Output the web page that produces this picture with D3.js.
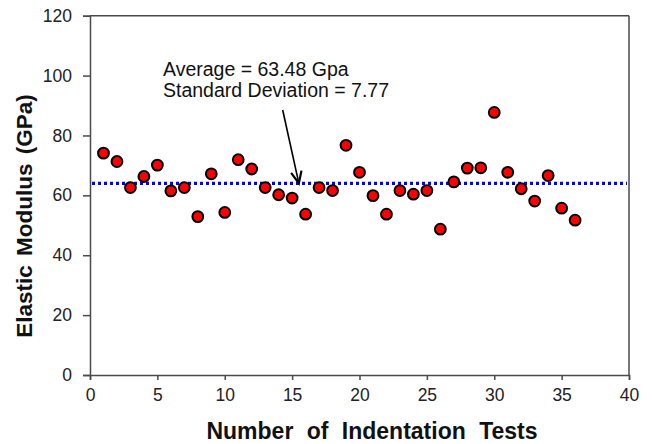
<!DOCTYPE html>
<html>
<head>
<meta charset="utf-8">
<script src="https://cdn.jsdelivr.net/npm/d3@7"></script>
<style>
  html, body { margin: 0; padding: 0; background: #fff; }
  svg { display: block; }
</style>
</head>
<body>
<div id="chart"></div>
<script>
// ---- Data ----
const testNumbers = [1,2,3,4,5,6,7,8,9,10,11,12,13,14,15,16,17,18,19,20,21,22,23,24,25,26,27,28,29,30,31,32,33,34,35,36];
const modulusValues = [74.1,71.3,62.6,66.3,70.1,61.5,62.6,52.9,67.2,54.3,71.9,68.8,62.6,60.2,59.1,53.7,62.6,61.6,76.7,67.7,59.9,53.7,61.6,60.4,61.6,48.7,64.5,69.1,69.2,87.7,67.7,62.2,58.1,66.6,55.7,51.7];
const averageLine = [64.0];
const xTicks = [0,5,10,15,20,25,30,35,40];
const yTicks = [0,20,40,60,80,100,120];
const annotationLines = ["Average = 63.48 Gpa", "Standard Deviation = 7.77"];
const arrowFrom = [14.3, 88.5];
const arrowTo = [15.5, 64.0];
const xTitle = "Number of Indentation Tests";
const yTitle = "Elastic Modulus (GPa)";

// ---- Layout ----
const W = 652, H = 444;
const mLeft = 90, mRight = 629, mTop = 15.7, mBottom = 375;

const svg = d3.select("#chart").append("svg").attr("width", W).attr("height", H);

const x = d3.scaleLinear().domain([0, 40]).range([mLeft, mRight]);
const y = d3.scaleLinear().domain([0, 120]).range([mBottom, mTop]);

const axisColor = "#4a4a4a";
const font = "'Liberation Sans', Arial, sans-serif";

// frame (top and right)
svg.append("line").attr("x1", mLeft).attr("x2", mRight).attr("y1", mTop).attr("y2", mTop)
  .attr("stroke", axisColor).attr("stroke-width", 1.5);
svg.append("line").attr("x1", mRight).attr("x2", mRight).attr("y1", mTop).attr("y2", mBottom)
  .attr("stroke", axisColor).attr("stroke-width", 1.5);

// x axis
const xAxis = svg.append("g").attr("transform", `translate(0,${mBottom})`)
  .call(d3.axisBottom(x).tickValues(xTicks).tickSize(5).tickPadding(9).tickFormat(d3.format("d")));
// y axis
const yAxis = svg.append("g").attr("transform", `translate(${mLeft},0)`)
  .call(d3.axisLeft(y).tickValues(yTicks).tickSize(7).tickPadding(11).tickFormat(d3.format("d")));

[xAxis, yAxis].forEach(g => {
  g.select(".domain").attr("stroke", axisColor).attr("stroke-width", 1.5);
  g.selectAll(".tick line").attr("stroke", axisColor).attr("stroke-width", 1.5);
  g.selectAll(".tick text").attr("fill", "#222").style("font-family", font).style("font-size", "17.5px");
});

// average line
svg.selectAll(".avg").data(averageLine).enter().append("line")
  .attr("x1", x(0) + 2).attr("x2", x(40) - 2)
  .attr("y1", d => y(d)).attr("y2", d => y(d))
  .attr("stroke", "#0000ff").attr("stroke-width", 3.2).attr("stroke-dasharray", "3,3");

// points
svg.selectAll(".pt").data(testNumbers.map((t, i) => ({ t, v: modulusValues[i] })))
  .enter().append("circle")
  .attr("cx", d => x(d.t)).attr("cy", d => y(d.v)).attr("r", 5.4)
  .attr("fill", "#ff0000").attr("stroke", "#000").attr("stroke-width", 2);

// annotation text
svg.selectAll(".ann").data(annotationLines).enter().append("text")
  .attr("x", 163).attr("y", (d, i) => 76 + i * 21)
  .style("font-family", font).style("font-size", "19.5px").attr("fill", "#111")
  .text(d => d);

// arrow
const ax1 = x(arrowFrom[0]), ay1 = y(arrowFrom[1]);
const ax2 = x(arrowTo[0]), ay2 = y(arrowTo[1]);
svg.append("line").attr("x1", ax1).attr("y1", ay1).attr("x2", ax2).attr("y2", ay2)
  .attr("stroke", "#000").attr("stroke-width", 1.6);
const ang = Math.atan2(ay2 - ay1, ax2 - ax1);
const hl = 13, ha = 0.42;
const p1 = [ax2 - hl * Math.cos(ang - ha), ay2 - hl * Math.sin(ang - ha)];
const p2 = [ax2 - hl * Math.cos(ang + ha), ay2 - hl * Math.sin(ang + ha)];
svg.append("path").attr("d", `M${p1[0]},${p1[1]} L${ax2},${ay2} L${p2[0]},${p2[1]}`)
  .attr("fill", "none").attr("stroke", "#000").attr("stroke-width", 2.2);

// axis titles
svg.append("text").attr("x", 372).attr("y", 439)
  .attr("text-anchor", "middle").style("font-family", font).style("font-size", "23px")
  .style("word-spacing", "7px")
  .style("font-weight", "bold").attr("fill", "#111").text(xTitle);
svg.append("text").attr("transform", `translate(32,216) rotate(-90)`)
  .attr("text-anchor", "middle").style("font-family", font).style("font-size", "22.5px")
  .style("word-spacing", "3px")
  .style("font-weight", "bold").attr("fill", "#111").text(yTitle);
</script>
</body>
</html>
